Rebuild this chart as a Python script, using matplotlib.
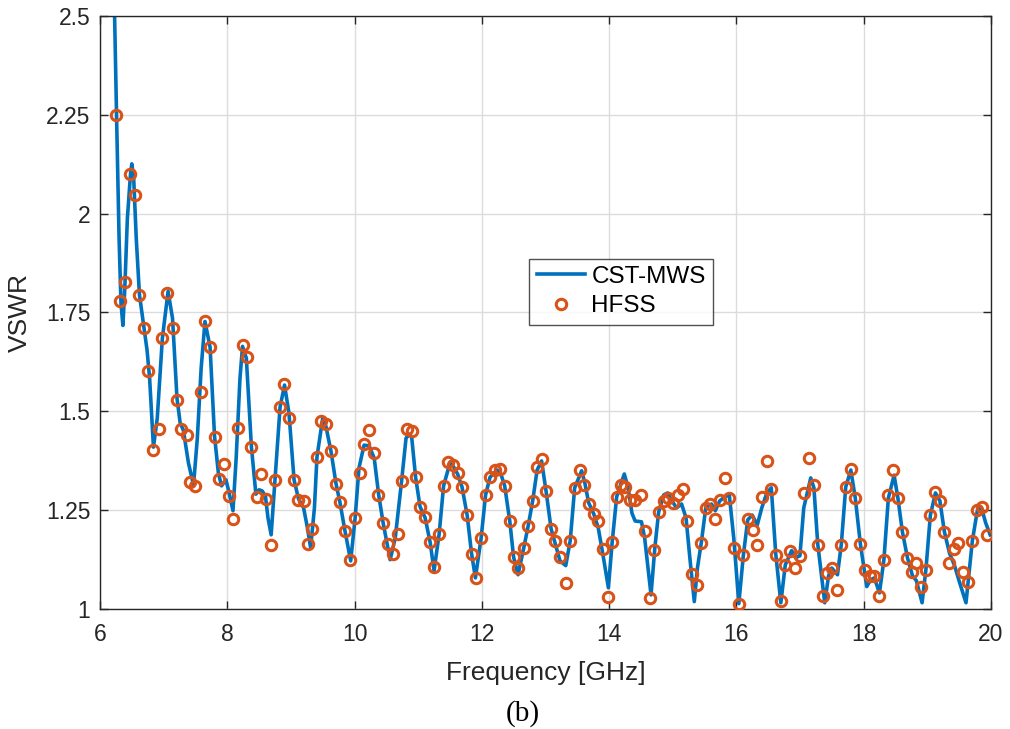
import numpy as np
import matplotlib
matplotlib.use("Agg")
import matplotlib.pyplot as plt
from matplotlib.ticker import FixedLocator, FixedFormatter

# CST-MWS curve (frequency in GHz, VSWR)
cst_freq = [6.22, 6.26, 6.30, 6.33, 6.36, 6.39, 6.43, 6.48, 6.50, 6.53, 6.57, 6.62, 6.69, 6.74, 6.78,
            6.84, 6.90, 6.98, 7.07, 7.14, 7.21, 7.26, 7.31, 7.39, 7.47, 7.53, 7.59, 7.65, 7.73, 7.80,
            7.86, 7.91, 7.98, 8.03, 8.09, 8.14, 8.20, 8.24, 8.30, 8.38, 8.45, 8.50, 8.55, 8.60, 8.64,
            8.69, 8.75, 8.83, 8.90, 8.97, 9.05, 9.12, 9.20, 9.26, 9.31, 9.37, 9.41, 9.50, 9.55, 9.63,
            9.71, 9.77, 9.85, 9.94, 10.01, 10.07, 10.15, 10.23, 10.31, 10.38, 10.45, 10.56, 10.64, 10.74,
            10.81, 10.87, 10.90, 10.96, 11.03, 11.11, 11.19, 11.25, 11.33, 11.40, 11.50, 11.55, 11.62,
            11.69, 11.77, 11.84, 11.90, 11.99, 12.06, 12.13, 12.24, 12.30, 12.36, 12.44, 12.50, 12.57,
            12.66, 12.73, 12.80, 12.87, 12.94, 13.01, 13.09, 13.15, 13.23, 13.32, 13.39, 13.46, 13.57,
            13.62, 13.68, 13.76, 13.83, 13.90, 13.99, 14.05, 14.12, 14.19, 14.24, 14.30, 14.36, 14.41,
            14.51, 14.56, 14.66, 14.72, 14.78, 14.86, 14.92, 14.99, 15.06, 15.14, 15.21, 15.27, 15.34,
            15.39, 15.45, 15.52, 15.61, 15.67, 15.74, 15.82, 15.89, 15.96, 16.04, 16.11, 16.18, 16.25,
            16.33, 16.40, 16.48, 16.55, 16.62, 16.70, 16.77, 16.87, 16.93, 17.00, 17.06, 17.17, 17.22,
            17.28, 17.39, 17.45, 17.50, 17.59, 17.65, 17.72, 17.80, 17.87, 17.95, 18.05, 18.11, 18.17,
            18.25, 18.32, 18.39, 18.48, 18.54, 18.61, 18.69, 18.77, 18.83, 18.92, 18.98, 19.05, 19.13,
            19.20, 19.27, 19.35, 19.43, 19.51, 19.61, 19.71, 19.79, 19.85, 19.92, 19.99]
cst_vswr = [2.58, 2.250, 1.937, 1.773, 1.717, 1.811, 1.987, 2.101, 2.126, 2.088, 1.937, 1.795, 1.712, 1.654, 1.583,
            1.409, 1.482, 1.684, 1.803, 1.735, 1.533, 1.470, 1.452, 1.369, 1.313, 1.432, 1.609, 1.727, 1.662, 1.437,
            1.344, 1.311, 1.326, 1.293, 1.248, 1.381, 1.583, 1.664, 1.634, 1.409, 1.290, 1.301, 1.298, 1.285, 1.230,
            1.187, 1.326, 1.510, 1.566, 1.495, 1.326, 1.278, 1.255, 1.205, 1.154, 1.255, 1.384, 1.482, 1.462, 1.399,
            1.316, 1.270, 1.197, 1.121, 1.230, 1.356, 1.414, 1.412, 1.381, 1.288, 1.217, 1.124, 1.179, 1.323,
            1.432, 1.442, 1.432, 1.333, 1.258, 1.230, 1.167, 1.096, 1.189, 1.311, 1.369, 1.361, 1.341,
            1.308, 1.237, 1.139, 1.078, 1.179, 1.288, 1.333, 1.351, 1.341, 1.311, 1.222, 1.131, 1.086,
            1.154, 1.210, 1.273, 1.351, 1.374, 1.298, 1.202, 1.167, 1.121, 1.109, 1.172, 1.306, 1.349,
            1.318, 1.268, 1.240, 1.205, 1.141, 1.053, 1.169, 1.283, 1.318, 1.341, 1.306, 1.242, 1.222,
            1.220, 1.179, 1.035, 1.154, 1.245, 1.288, 1.293, 1.273, 1.255, 1.265, 1.230, 1.129, 1.018,
            1.104, 1.167, 1.255, 1.265, 1.248, 1.273, 1.283, 1.288, 1.179, 1.013, 1.134, 1.225, 1.237,
            1.212, 1.255, 1.293, 1.306, 1.139, 1.015, 1.111, 1.147, 1.129, 1.134, 1.255, 1.331, 1.306,
            1.164, 1.015, 1.083, 1.103, 1.086, 1.162, 1.308, 1.351, 1.280, 1.164, 1.056, 1.073, 1.078,
            1.040, 1.124, 1.280, 1.338, 1.280, 1.195, 1.129, 1.083, 1.071, 1.015, 1.099, 1.237, 1.293,
            1.273, 1.195, 1.141, 1.109, 1.066, 1.015, 1.172, 1.250, 1.257, 1.217, 1.187]

# HFSS samples
hfss_freq = [6.25, 6.32, 6.40, 6.47, 6.55, 6.62, 6.69, 6.76, 6.84, 6.92, 6.98, 7.06, 7.14, 7.21, 7.28,
             7.36, 7.42, 7.50, 7.58, 7.65, 7.73, 7.80, 7.87, 7.95, 8.02, 8.09, 8.17, 8.24, 8.31, 8.38,
             8.46, 8.53, 8.61, 8.68, 8.75, 8.83, 8.89, 8.97, 9.05, 9.11, 9.21, 9.27, 9.33, 9.41, 9.48,
             9.55, 9.63, 9.71, 9.77, 9.85, 9.93, 10.01, 10.09, 10.15, 10.23, 10.31, 10.37, 10.45, 10.53,
             10.60, 10.68, 10.74, 10.82, 10.90, 10.96, 11.03, 11.11, 11.18, 11.25, 11.33, 11.40, 11.47,
             11.55, 11.62, 11.69, 11.77, 11.84, 11.91, 11.99, 12.06, 12.13, 12.21, 12.29, 12.36, 12.44,
             12.50, 12.57, 12.66, 12.73, 12.80, 12.87, 12.94, 13.01, 13.09, 13.15, 13.23, 13.32, 13.39,
             13.46, 13.54, 13.61, 13.68, 13.76, 13.83, 13.90, 13.98, 14.05, 14.12, 14.19, 14.25, 14.33,
             14.41, 14.50, 14.56, 14.64, 14.71, 14.78, 14.86, 14.93, 15.00, 15.08, 15.16, 15.23, 15.30,
             15.38, 15.45, 15.52, 15.59, 15.67, 15.74, 15.82, 15.89, 15.96, 16.04, 16.11, 16.18, 16.26,
             16.33, 16.40, 16.48, 16.55, 16.62, 16.70, 16.77, 16.84, 16.92, 17.00, 17.06, 17.14, 17.22,
             17.28, 17.36, 17.43, 17.50, 17.59, 17.65, 17.72, 17.80, 17.86, 17.95, 18.03, 18.10, 18.17,
             18.25, 18.32, 18.39, 18.47, 18.54, 18.61, 18.69, 18.76, 18.83, 18.91, 18.98, 19.05, 19.13,
             19.20, 19.27, 19.35, 19.42, 19.49, 19.57, 19.64, 19.71, 19.79, 19.86, 19.94]
hfss_vswr = [2.249, 1.778, 1.828, 2.101, 2.046, 1.795, 1.711, 1.602, 1.402, 1.455, 1.686, 1.799, 1.711, 1.527, 1.455,
             1.440, 1.320, 1.311, 1.548, 1.727, 1.662, 1.435, 1.328, 1.366, 1.285, 1.227, 1.458, 1.668, 1.636, 1.410,
             1.283, 1.341, 1.278, 1.162, 1.326, 1.510, 1.568, 1.482, 1.326, 1.275, 1.273, 1.164, 1.202, 1.384, 1.475,
             1.467, 1.399, 1.316, 1.270, 1.197, 1.124, 1.230, 1.343, 1.417, 1.452, 1.394, 1.288, 1.217, 1.164,
             1.139, 1.189, 1.322, 1.455, 1.451, 1.334, 1.258, 1.232, 1.169, 1.106, 1.189, 1.311, 1.371,
             1.364, 1.343, 1.309, 1.238, 1.139, 1.078, 1.179, 1.287, 1.334, 1.351, 1.354, 1.310, 1.221,
             1.131, 1.102, 1.154, 1.209, 1.273, 1.359, 1.379, 1.297, 1.203, 1.171, 1.132, 1.066, 1.171,
             1.306, 1.352, 1.314, 1.266, 1.240, 1.223, 1.152, 1.030, 1.169, 1.284, 1.314, 1.307, 1.275,
             1.275, 1.289, 1.196, 1.026, 1.148, 1.244, 1.273, 1.279, 1.268, 1.289, 1.302, 1.221, 1.087,
             1.060, 1.167, 1.255, 1.265, 1.228, 1.275, 1.331, 1.280, 1.154, 1.013, 1.135, 1.226, 1.199,
             1.161, 1.282, 1.373, 1.304, 1.137, 1.019, 1.110, 1.146, 1.103, 1.134, 1.294, 1.381, 1.314,
             1.162, 1.031, 1.091, 1.103, 1.048, 1.162, 1.308, 1.354, 1.279, 1.164, 1.097, 1.082, 1.082,
             1.033, 1.124, 1.289, 1.351, 1.280, 1.194, 1.129, 1.092, 1.115, 1.056, 1.099, 1.238, 1.295,
             1.272, 1.194, 1.116, 1.152, 1.167, 1.093, 1.068, 1.171, 1.250, 1.257, 1.186]

x_ticks = [6, 8, 10, 12, 14, 16, 18, 20]
y_ticks = [1, 1.25, 1.5, 1.75, 2, 2.25, 2.5]
y_tick_labels = ["1", "1.25", "1.5", "1.75", "2", "2.25", "2.5"]

plt.rcParams["font.family"] = ["Liberation Sans", "DejaVu Sans"]

fig = plt.figure(figsize=(10.1, 7.29), dpi=100)
ax = fig.add_axes([0.099, 0.165, 0.882, 0.813])

ax.plot(cst_freq, cst_vswr, color="#0072BD", lw=2.6, label="CST-MWS", zorder=2)
ax.plot(hfss_freq, hfss_vswr, "o", mfc="none", mec="#D95319", mew=2.2, ms=7.5,
        label="HFSS", zorder=3)

ax.set_xlim(6, 20)
ax.set_ylim(1, 2.5)
ax.xaxis.set_major_locator(FixedLocator(x_ticks))
ax.yaxis.set_major_locator(FixedLocator(y_ticks))
ax.yaxis.set_major_formatter(FixedFormatter(y_tick_labels))
ax.grid(True, color="#dcdcdc", lw=1)
ax.set_axisbelow(True)
ax.tick_params(direction="in", top=True, right=True, length=6, width=1,
               labelsize=16.5, colors="#262626")
ax.tick_params(axis="x", pad=10)
ax.tick_params(axis="y", pad=7)
for sp in ax.spines.values():
    sp.set_color("#262626")
    sp.set_linewidth(1)

ax.set_xlabel("Frequency [GHz]", fontsize=19, color="#262626", labelpad=11)
ax.set_ylabel("VSWR", fontsize=19, color="#262626", labelpad=10)

leg = ax.legend(loc="center", bbox_to_anchor=(0.585, 0.535), fontsize=17.5,
                frameon=True, fancybox=False, edgecolor="#262626",
                handlelength=2.0, handletextpad=0.25, borderpad=0.3,
                labelspacing=0.3, borderaxespad=0)
leg.get_frame().set_linewidth(1)

fig.text(0.518, 0.0206, "(b)", fontsize=21, family="Liberation Serif",
         ha="center", va="center", color="black")

fig.savefig("out.png", dpi=100)
